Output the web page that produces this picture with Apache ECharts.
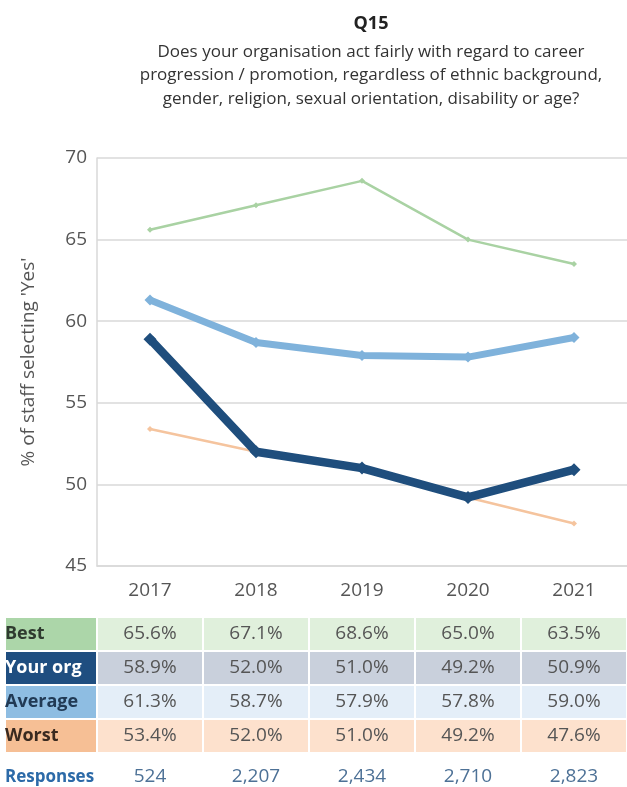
<!DOCTYPE html>
<html>
<head>
<meta charset="utf-8">
<script src="https://cdn.jsdelivr.net/npm/echarts@6/dist/echarts.min.js"></script>
<style>
  html, body { margin: 0; padding: 0; background: #fff; }
  #chart { width: 627px; height: 787px; }
</style>
</head>
<body>
<div id="chart"></div>
<script>
// Survey question Q15: staff saying "Yes", 2017–2021
const years = ['2017', '2018', '2019', '2020', '2021'];
const best = [65.6, 67.1, 68.6, 65.0, 63.5];
const yourOrg = [58.9, 52.0, 51.0, 49.2, 50.9];
const average = [61.3, 58.7, 57.9, 57.8, 59.0];
const worst = [53.4, 52.0, 51.0, 49.2, 47.6];
const responses = ['524', '2,207', '2,434', '2,710', '2,823'];

const FONT = '"Open Sans", "Noto Sans", sans-serif';

// Table rows under the chart: label, values, label cell colour, value cell colour, label text colour
const tableRows = [
  { name: 'Best', values: best, head: '#acd6a9', cell: '#e0f0dc', text: '#2f3b2f' },
  { name: 'Your org', values: yourOrg, head: '#1f4e80', cell: '#c9d0dc', text: '#ffffff' },
  { name: 'Average', values: average, head: '#8ebde2', cell: '#e4eef8', text: '#213a55' },
  { name: 'Worst', values: worst, head: '#f6bf95', cell: '#fde1cd', text: '#3a2a20' }
];

const chart = echarts.init(document.getElementById('chart'), null, { renderer: 'canvas' });

function lineSeries(name, data, color, width, symbolSize, z) {
  return {
    name, type: 'line', data, z,
    symbol: 'diamond', symbolSize,
    lineStyle: { color, width },
    itemStyle: { color },
    emphasis: { disabled: true },
    animation: false
  };
}

chart.setOption({
  animation: false,
  title: [
    { text: 'Q15', left: 366, top: 10, textAlign: 'center',
      textStyle: { fontFamily: FONT, fontSize: 18, fontWeight: 'bold', color: '#222' } },
    { text: 'Does your organisation act fairly with regard to career\nprogression / promotion, regardless of ethnic background,\ngender, religion, sexual orientation, disability or age?',
      left: 366, top: 35, textAlign: 'center',
      textStyle: { fontFamily: FONT, fontSize: 17, fontWeight: 'normal', color: '#333', lineHeight: 23.5 } }
  ],
  grid: { left: 97, top: 158, width: 533, height: 408, containLabel: false },
  xAxis: {
    type: 'category', data: years, boundaryGap: true,
    axisLine: { lineStyle: { color: '#d9d9d9', width: 1.5 } },
    axisTick: { show: false },
    axisLabel: { fontFamily: FONT, fontSize: 19, color: '#555', margin: 15 }
  },
  yAxis: {
    type: 'value', min: 45, max: 70, interval: 5,
    name: "% of staff selecting 'Yes'", nameLocation: 'middle', nameRotate: 90, nameGap: 59,
    nameTextStyle: { fontFamily: FONT, fontSize: 19, color: '#555' },
    axisLine: { show: true, lineStyle: { color: '#d9d9d9', width: 1.5 } },
    axisTick: { show: false },
    axisLabel: { fontFamily: FONT, fontSize: 19, color: '#555', margin: 10 },
    splitLine: { show: true, lineStyle: { color: '#d9d9d9', width: 1.5 } }
  },
  series: [
    lineSeries('Best', best, '#a9d2a3', 2.5, 6, 2),
    lineSeries('Worst', worst, '#f5c49e', 2.5, 6, 2),
    lineSeries('Average', average, '#7fb2db', 7, 11, 3),
    lineSeries('Your org', yourOrg, '#1f4e7d', 8.5, 13, 4)
  ]
});

// Table cells laid out on the category axis positions
const centers = years.map((y, i) => chart.convertToPixel({ xAxisIndex: 0 }, i));
const band = centers[1] - centers[0];
const rowTop = [618, 652, 686, 720];
const rowH = 32;
const headLeft = 6;
const headRight = centers[0] - band / 2;
const graphics = [];

tableRows.forEach((row, r) => {
  const top = rowTop[r];
  graphics.push({
    type: 'rect', shape: { x: headLeft, y: top, width: headRight - headLeft - 1, height: rowH },
    style: { fill: row.head }, silent: true
  });
  graphics.push({
    type: 'text', x: headLeft - 1, y: top + rowH / 2,
    style: { text: row.name, fill: row.text, font: 'bold 18px ' + FONT, textVerticalAlign: 'middle', textAlign: 'left' },
    silent: true
  });
  row.values.forEach((v, i) => {
    graphics.push({
      type: 'rect', shape: { x: centers[i] - band / 2 + 1, y: top, width: band - 2, height: rowH },
      style: { fill: row.cell }, silent: true
    });
    graphics.push({
      type: 'text', x: centers[i], y: top + rowH / 2,
      style: { text: v.toFixed(1) + '%', fill: '#555', font: '19px ' + FONT, textVerticalAlign: 'middle', textAlign: 'center' },
      silent: true
    });
  });
});

graphics.push({
  type: 'text', x: headLeft - 1, y: 777,
  style: { text: 'Responses', fill: '#2c6aa8', font: 'bold 17px ' + FONT, textVerticalAlign: 'middle', textAlign: 'left' },
  silent: true
});
responses.forEach((n, i) => {
  graphics.push({
    type: 'text', x: centers[i], y: 777,
    style: { text: n, fill: '#4d7196', font: '19px ' + FONT, textVerticalAlign: 'middle', textAlign: 'center' },
    silent: true
  });
});

chart.setOption({ graphic: { elements: graphics } });
</script>
</body>
</html>
